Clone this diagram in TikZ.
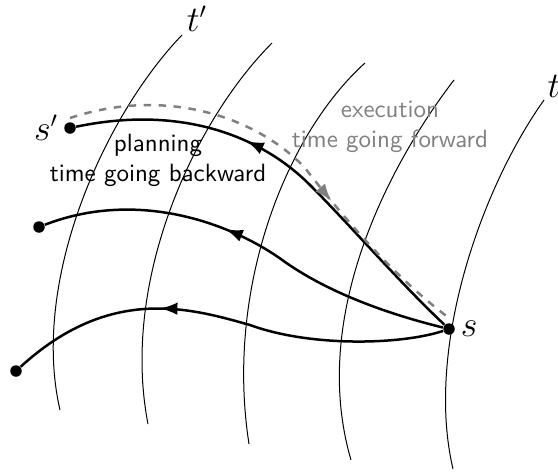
\documentclass[tikz,border=0pt]{standalone}
\usetikzlibrary{arrows.meta,positioning,decorations.markings}
\tikzset{
  timeline/.style={thin},
  plan/.style={line width=1pt},
  exec/.style={line width=1pt, dashed, gray},
  dot/.style={circle, fill, inner sep=0pt, minimum size=4.6pt},
  mathlabel/.style={font=\fontsize{13.5}{16}\selectfont, inner sep=1pt},
  caption/.style={font=\sffamily, align=center},
  midarrow/.style={postaction={decorate}, decoration={markings,
      mark=at position #1 with {\arrow{Latex[length=7pt,width=5pt]}}}},
}
\begin{document}
\begin{tikzpicture}[x=0.4pt, y=-0.4pt]
\useasboundingbox (0,0) rectangle (558,474);

% lines of equal time
\foreach \xa/\ya/\xb/\yb/\xc/\yc/\xd/\yd in {182/35/105/115/30/280/60/410,
    272/43/195/120/120/280/148/424, 365/63/285/135/225/290/249/444,
    454/80/385/170/310/320/351/460, 544/100/480/190/425/350/453/469}
  \draw[timeline] (\xa,\ya) .. controls (\xb,\yb) and (\xc,\yc) .. (\xd,\yd);

\node[dot] (s) at (449,329) {};
\node[dot] (sp) at (70,128) {};
\node[dot] (q1) at (39,227) {};
\node[dot] (q2) at (16,371) {};
\node[mathlabel, right=1pt of s] (slab) {$s$};
\node[mathlabel, left=1pt of sp] (splab) {$s'$};
\node[mathlabel] (tplab) at (197,19) {$t'$};
\node[mathlabel] (tlab) at (554,86) {$t$};

\node[caption] (plantext) at (158,160) {planning\\time going backward};
\node[caption, gray] (exectext) at (390,127) {execution\\time going forward};

% planning goes back from s
\draw[plan, midarrow=0.61] (s) .. controls (400,283) and (350,225) .. (310,185)
  .. controls (260,135) and (180,105) .. (sp);
\draw[plan, midarrow=0.565] (s) .. controls (400,317) and (335,297) .. (285,262)
  .. controls (235,225) and (140,188) .. (q1);
\draw[plan, midarrow=0.65] (s) .. controls (400,345) and (310,347) .. (250,325)
  .. controls (190,308) and (110,285) .. (q2);

% execution runs forward
\draw[exec, midarrow=0.64] ([yshift=4pt]sp.center) .. controls (170,85) and (260,120) .. (305,168)
  .. controls (330,200) and (385,270) .. ([yshift=4.4pt]s.center);
\end{tikzpicture}
\end{document}
